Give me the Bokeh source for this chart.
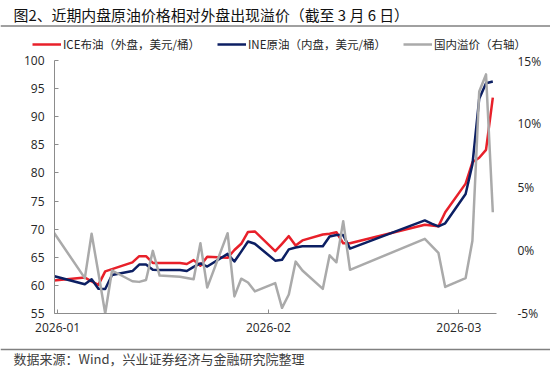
import pandas as pd
from bokeh.plotting import figure
from bokeh.layouts import column
from bokeh.models import (Range1d, LinearAxis, FixedTicker, DatetimeTickFormatter,
                          PrintfTickFormatter, Label, Legend, LegendItem, Span,
                          ColumnDataSource)
from bokeh.embed import file_html
from bokeh.resources import INLINE

# ---------------- data ----------------
dates = ["2025-12-31",
         "2026-01-05", "2026-01-06", "2026-01-07", "2026-01-08", "2026-01-09",
         "2026-01-12", "2026-01-13", "2026-01-14", "2026-01-15", "2026-01-16",
         "2026-01-19", "2026-01-20", "2026-01-21", "2026-01-22", "2026-01-23",
         "2026-01-26", "2026-01-27", "2026-01-28", "2026-01-29", "2026-01-30",
         "2026-02-02", "2026-02-03", "2026-02-04", "2026-02-05", "2026-02-06",
         "2026-02-09", "2026-02-10", "2026-02-11", "2026-02-12", "2026-02-13",
         "2026-02-24", "2026-02-25", "2026-02-26", "2026-02-27",
         "2026-03-02", "2026-03-03", "2026-03-04", "2026-03-05", "2026-03-06"]

ice_brent = [60.8,
             61.4, 60.7, 60.1, 62.5, 62.9,
             64.1, 65.2, 65.2, 64.0, 64.0,
             64.0, 63.8, 64.5, 63.5, 65.1,
             64.9, 66.3, 67.4, 69.5, 69.6,
             66.1, 67.4, 68.75, 67.1, 68.0,
             69.05, 69.2, 69.45, 67.5, 67.5,
             70.8, 70.65, 70.5, 73.0,
             78.1, 81.9, 82.7, 84.1, 93.4]

ine_crude = [61.8,
             60.2, 61.1, 59.4, 59.35, 61.85,
             62.55, 63.7, 63.7, 62.8, 62.75,
             62.75, 62.55, 63.3, 63.9, 63.35,
             65.6, 64.25, 66.0, 67.8, 67.4,
             64.4, 64.55, 66.4, 66.75, 66.95,
             66.95, 68.7, 68.95, 68.95, 66.55,
             71.55, 71.0, 70.5, 71.05,
             76.25, 81.5, 93.2, 95.95, 96.25]

premium = [1.75,
           -2.2, 1.3, -1.8, -5.0, -1.6,
           -2.45, -2.5, -2.35, -0.05, -2.0,
           -2.1, -2.2, -2.3, 0.55, -2.95,
           1.35, -3.65, -2.25, -2.55, -3.25,
           -2.6, -4.55, -3.5, -0.9, -1.6,
           -3.05, -0.4, -0.95, 2.3, -1.55,
           0.9, 0.35, -0.2, -2.9,
           -2.2, 0.75, 12.55, 13.9, 3.0]

left_ticks = [55, 60, 65, 70, 75, 80, 85, 90, 95, 100]
right_ticks = [-5, 0, 5, 10, 15]
month_ticks = ["2026-01-01", "2026-02-01", "2026-03-01"]

title_text = "图2、近期内盘原油价格相对外盘出现溢价（截至 3 月 6 日）"
source_text = "数据来源：Wind，兴业证券经济与金融研究院整理"
legend_labels = ["ICE布油（外盘，美元/桶）", "INE原油（内盘，美元/桶）", "国内溢价（右轴）"]

RED = "#e8202a"
BLUE = "#0c1f63"
GRAY = "#aaaaaa"
RULE = "#808080"
CJK = "Noto Sans CJK SC"

W = 550
TOP_H, MAIN_H, BOT_H = 52, 290, 30

src = ColumnDataSource(dict(date=pd.to_datetime(dates), ice=ice_brent, ine=ine_crude, prem=premium))


def banner(height):
    f = figure(width=W, height=height, x_range=Range1d(0, W), y_range=Range1d(height, 0),
               output_backend="svg", toolbar_location=None,
               x_axis_location=None, y_axis_location=None, frame_align=False,
               min_border=0, min_border_left=0, min_border_right=0,
               min_border_top=0, min_border_bottom=0)
    f.outline_line_color = None
    f.grid.visible = False
    return f


# ---------------- header (title, rule, legend) ----------------
top = banner(TOP_H)
top.add_layout(Label(x=13, y=14, text=title_text, text_font=CJK, text_font_size="14.9px",
                     text_color="#111111", text_baseline="middle", text_align="left"))
top.add_layout(Span(location=25.5, dimension="width", line_color=RULE, line_width=1.3))

# legend keys reuse the real series (they fall outside this header's ranges)
k_ice = top.line("date", "ice", source=src, line_color=RED, line_width=2.5)
k_ine = top.line("date", "ine", source=src, line_color=BLUE, line_width=2.5)
k_prem = top.line("date", "prem", source=src, line_color=GRAY, line_width=2.5)
legend = Legend(items=[LegendItem(label=legend_labels[0], renderers=[k_ice]),
                       LegendItem(label=legend_labels[1], renderers=[k_ine]),
                       LegendItem(label=legend_labels[2], renderers=[k_prem])],
                orientation="horizontal", location=(32, 0),
                padding=0, margin=0, spacing=17, glyph_width=29, glyph_height=14,
                label_height=14, label_standoff=2,
                border_line_color=None, background_fill_alpha=0,
                label_text_font=CJK, label_text_font_size="11.5px",
                label_text_color="#262626")
top.add_layout(legend, "center")

# ---------------- main chart ----------------
x_start = pd.Timestamp("2025-12-31 13:00")
x_end = pd.Timestamp("2026-03-06 13:00")

p = figure(width=W, height=MAIN_H, x_axis_type="datetime",
           x_range=Range1d(x_start, x_end), y_range=Range1d(55, 100),
           output_backend="svg", toolbar_location=None, frame_align=False,
           min_border_left=54, min_border_right=54, min_border_top=8, min_border_bottom=29)
p.outline_line_color = None
p.grid.visible = False
p.extra_y_ranges = {"pct": Range1d(-5, 15)}

p.line("date", "ice", source=src, line_color=RED, line_width=2.5, line_join="round")
p.line("date", "ine", source=src, line_color=BLUE, line_width=2.5, line_join="round")
p.line("date", "prem", source=src, line_color=GRAY, line_width=2.5, line_join="round",
       y_range_name="pct")

AXIS_COLOR = "#8c8c8c"
TICK_FONT = "Open Sans"
TICK_COLOR = "#262626"

ya = p.yaxis[0]
ya.ticker = FixedTicker(ticks=left_ticks)
ya.axis_line_color = AXIS_COLOR
ya.major_tick_line_color = AXIS_COLOR
ya.major_tick_in = 4
ya.major_tick_out = 0
ya.minor_tick_line_color = None
ya.major_label_standoff = 10
ya.major_label_text_font = TICK_FONT
ya.major_label_text_font_size = "12px"
ya.major_label_text_color = TICK_COLOR

xa = p.xaxis[0]
xa.ticker = FixedTicker(ticks=[pd.Timestamp(t).value // 10**6 for t in month_ticks])
xa.formatter = DatetimeTickFormatter(days="%Y-%m", months="%Y-%m", years="%Y-%m",
                                     hours="%Y-%m", minutes="%Y-%m")
xa.axis_line_color = AXIS_COLOR
xa.major_tick_line_color = AXIS_COLOR
xa.major_tick_in = 4
xa.major_tick_out = 0
xa.minor_tick_line_color = None
xa.major_label_standoff = 9
xa.major_label_text_font = TICK_FONT
xa.major_label_text_font_size = "12px"
xa.major_label_text_color = TICK_COLOR

ra = LinearAxis(y_range_name="pct", ticker=FixedTicker(ticks=right_ticks),
                formatter=PrintfTickFormatter(format="%d%%"))
ra.axis_line_color = None
ra.major_tick_line_color = None
ra.minor_tick_line_color = None
ra.major_label_standoff = 15
ra.major_label_text_font = TICK_FONT
ra.major_label_text_font_size = "12px"
ra.major_label_text_color = TICK_COLOR
p.add_layout(ra, "right")

# ---------------- footer (rule, source) ----------------
bot = banner(BOT_H)
bot.add_layout(Span(location=7, dimension="width", line_color=RULE, line_width=1.3))
bot.add_layout(Label(x=13, y=16, text=source_text, text_font=CJK, text_font_size="13px",
                     text_color="#404040", text_baseline="middle", text_align="left"))

layout = column(top, p, bot, spacing=0)
open("out.html", "w").write(file_html(layout, INLINE))
